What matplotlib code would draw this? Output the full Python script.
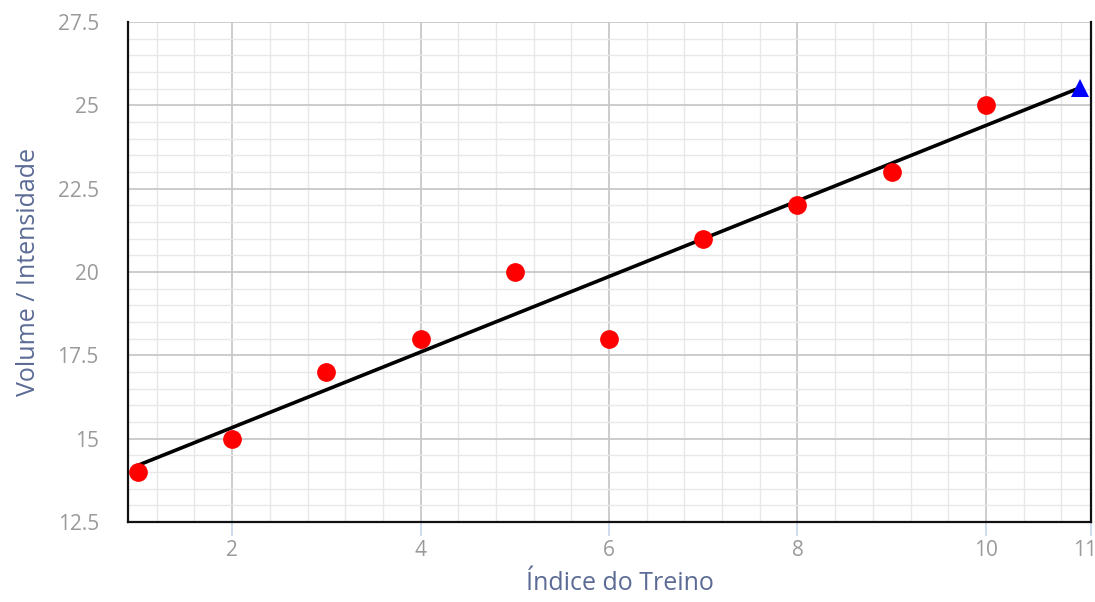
import matplotlib
matplotlib.use("Agg")
import matplotlib.pyplot as plt
import matplotlib.transforms as mtransforms
from matplotlib.ticker import MultipleLocator

# Data
train_idx = [1, 2, 3, 4, 5, 6, 7, 8, 9, 10]
volume = [14, 15, 17, 18, 20, 18, 21, 22, 23, 25]
trend_x = [1, 11]
trend_y = [14.2, 25.53]
pred_x = [11]
pred_y = [25.53]
x_ticks = [2, 4, 6, 8, 10, 11.115]
x_tick_labels = ["2", "4", "6", "8", "10", "11"]
y_ticks = [12.5, 15, 17.5, 20, 22.5, 25, 27.5]
y_tick_labels = ["12.5", "15", "17.5", "20", "22.5", "25", "27.5"]

plt.rcParams['font.family'] = ['Open Sans', 'DejaVu Sans']

fig = plt.figure(figsize=(10.95, 6.02), dpi=100)
ax = fig.add_axes([128/1095, 1-522/602, (1091-128)/1095, 500/602])

ax.set_xlim(0.895, 11.115)
ax.set_ylim(12.5, 27.5)

ax.xaxis.set_minor_locator(MultipleLocator(0.4))
ax.yaxis.set_minor_locator(MultipleLocator(0.5))
ax.set_xticks(x_ticks)
ax.set_xticklabels(x_tick_labels)
ax.set_yticks(y_ticks)
ax.set_yticklabels(y_tick_labels)

ax.grid(which='major', color='#c8c8c8', linewidth=1.3)
ax.grid(which='minor', color='#e8e8e8', linewidth=1.0)
ax.set_axisbelow(True)

ax.tick_params(axis='x', which='major', length=10, width=1.2, color='#c5d5e8',
               labelsize=15, labelcolor='#9a9a9a', pad=3)
ax.tick_params(axis='y', which='major', length=0, labelsize=15,
               labelcolor='#9a9a9a', pad=21)
ax.tick_params(which='minor', length=0)

# last x label sits slightly left of its tick, as in the reference
last = ax.get_xticklabels()[-1]
last.set_transform(last.get_transform() +
                   mtransforms.ScaledTranslation(-6/100, 0, fig.dpi_scale_trans))

for s in ['left', 'bottom', 'right']:
    ax.spines[s].set_color('#111111')
    ax.spines[s].set_linewidth(1.6)
ax.spines['top'].set_visible(False)

ax.plot(trend_x, trend_y, color='black', linewidth=2.6, zorder=3)
ax.plot(train_idx, volume, 'o', color='#ff0000', markersize=13.5, zorder=4,
        markeredgewidth=0)
ax.plot(pred_x, pred_y, '^', color='#0000ff', markersize=13, zorder=5,
        markeredgewidth=0, clip_on=False)

ax.set_xlabel('Índice do Treino', fontsize=18, color='#5b6b95', labelpad=2)
ax.xaxis.set_label_coords((620-128)/(1091-128), -0.098)
ax.set_ylabel('Volume / Intensidade', fontsize=18, color='#5b6b95', labelpad=12)

fig.savefig('out.png', dpi=100)
